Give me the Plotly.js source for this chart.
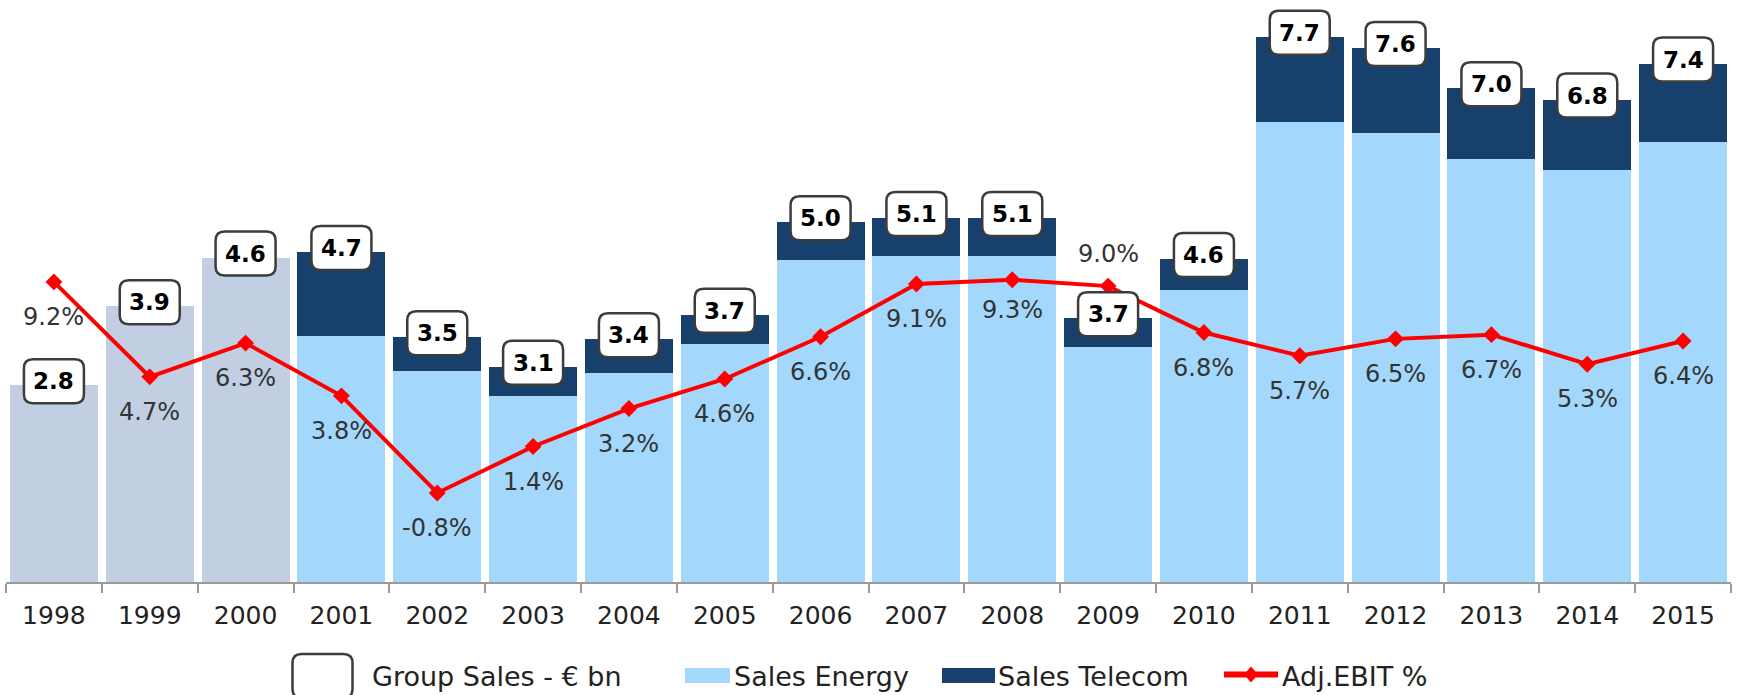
<!DOCTYPE html>
<html>
<head>
<meta charset="utf-8">
<script src="https://cdn.plot.ly/plotly-3.0.1.min.js"></script>
<style>
  html, body { margin: 0; padding: 0; background: #ffffff; }
  #chart { width: 1741px; height: 695px; }
</style>
</head>
<body>
<div id="chart"></div>
<script>
// ---------------- DATA ----------------
const years = ['1998','1999','2000','2001','2002','2003','2004','2005','2006','2007','2008','2009','2010','2011','2012','2013','2014','2015'];
// Group sales before segment split (€ bn)
const groupSalesEarly = [2.79, 3.91, 4.60, null, null, null, null, null, null, null, null, null, null, null, null, null, null, null];
// Segment sales (€ bn)
const salesEnergy  = [null, null, null, 3.49, 2.99, 2.63, 2.97, 3.37, 4.56, 4.62, 4.62, 3.33, 4.14, 6.52, 6.37, 6.00, 5.84, 6.24];
const salesTelecom = [null, null, null, 1.19, 0.48, 0.42, 0.47, 0.42, 0.54, 0.54, 0.54, 0.41, 0.44, 1.21, 1.20, 1.00, 1.00, 1.11];
// Group sales labels (€ bn)
const groupSalesLabel = [2.8, 3.9, 4.6, 4.7, 3.5, 3.1, 3.4, 3.7, 5.0, 5.1, 5.1, 3.7, 4.6, 7.7, 7.6, 7.0, 6.8, 7.4];
// Adjusted EBIT margin (%)
const adjEbit = [9.2, 4.7, 6.3, 3.8, -0.8, 1.4, 3.2, 4.6, 6.6, 9.1, 9.3, 9.0, 6.8, 5.7, 6.5, 6.7, 5.3, 6.4];
// Legend labels
const legendLabels = ['Group Sales - \u20AC bn', 'Sales Energy', 'Sales Telecom', 'Adj.EBIT %'];

// ---------------- STYLE ----------------
const FONT = 'DejaVu Sans, Verdana, sans-serif';
const C_GROUP = '#c2cfe3';
const C_ENERGY = '#a3d8fc';
const C_TELECOM = '#17406d';
const C_EBIT = '#ff0000';
const C_BOXLINE = '#3c3c3c';
// vertical pixel offset of each percentage label from its point
const ebitLabelShift = years.map(y => (y === '2009' ? 32 : (y === '2008' ? -30 : -35)));

const W = 1741, H = 695;
const M = { l: 6, r: 10, t: 5, b: 113 };
const plotW = W - M.l - M.r, plotH = H - M.t - M.b;
const px2paperX = p => (p - M.l) / plotW;
const px2paperY = p => (H - M.b - p) / plotH;

function roundRect(w, h, r, cy) {
  const x0 = -w / 2, x1 = w / 2, y0 = cy - h / 2, y1 = cy + h / 2;
  return `M${x0 + r},${y0} L${x1 - r},${y0} Q${x1},${y0} ${x1},${y0 + r} L${x1},${y1 - r} Q${x1},${y1} ${x1 - r},${y1} L${x0 + r},${y1} Q${x0},${y1} ${x0},${y1 - r} L${x0},${y0 + r} Q${x0},${y0} ${x0 + r},${y0} Z`;
}

// ---------------- TRACES ----------------
const traces = [
  { type: 'bar', x: years, y: groupSalesEarly, name: 'Group Sales', marker: { color: C_GROUP }, showlegend: false },
  { type: 'bar', x: years, y: salesEnergy, name: legendLabels[1], marker: { color: C_ENERGY }, showlegend: false },
  { type: 'bar', x: years, y: salesTelecom, name: legendLabels[2], marker: { color: C_TELECOM }, showlegend: false },
  { type: 'scatter', mode: 'lines+markers', x: years, y: adjEbit, yaxis: 'y2', name: legendLabels[3],
    line: { color: C_EBIT, width: 4 }, marker: { symbol: 'diamond', size: 13, color: C_EBIT }, showlegend: false, cliponaxis: false }
];

// ---------------- LABEL BOXES & ANNOTATIONS ----------------
// category positions are referenced by index on the category axis
const totals = years.map((y, i) => (groupSalesEarly[i] || 0) + (salesEnergy[i] || 0) + (salesTelecom[i] || 0));
const BOX_SHIFT = 4;
const shapes = [];
const annotations = [];
years.forEach((yr, i) => {
  shapes.push({
    type: 'path', xref: 'x', yref: 'y', xsizemode: 'pixel', ysizemode: 'pixel',
    xanchor: i, yanchor: totals[i],
    path: roundRect(60, 44, 9, BOX_SHIFT),
    fillcolor: '#ffffff', line: { color: C_BOXLINE, width: 2.5 }, layer: 'above'
  });
  annotations.push({
    x: i, y: totals[i], xref: 'x', yref: 'y', yshift: BOX_SHIFT, showarrow: false,
    text: groupSalesLabel[i].toFixed(1), font: { family: FONT, size: 23, color: '#000000', weight: 'bold' },
    xanchor: 'center', yanchor: 'middle'
  });
  annotations.push({
    x: i, y: adjEbit[i], xref: 'x', yref: 'y2', yshift: ebitLabelShift[i], showarrow: false,
    text: adjEbit[i].toFixed(1) + '%', font: { family: FONT, size: 24, color: '#333333' },
    xanchor: 'center', yanchor: 'middle'
  });
});

// ---------------- CUSTOM LEGEND ----------------
const LEG_Y = 676;
shapes.push({
  type: 'path', xref: 'paper', yref: 'paper', xsizemode: 'pixel', ysizemode: 'pixel',
  xanchor: px2paperX(322.5), yanchor: px2paperY(LEG_Y),
  path: roundRect(60, 44, 9, 0), fillcolor: '#ffffff', line: { color: C_BOXLINE, width: 2.5 }
});
shapes.push({ type: 'rect', xref: 'paper', yref: 'paper', x0: px2paperX(685), x1: px2paperX(730),
  y0: px2paperY(683), y1: px2paperY(668), fillcolor: C_ENERGY, line: { width: 0 } });
shapes.push({ type: 'rect', xref: 'paper', yref: 'paper', x0: px2paperX(942), x1: px2paperX(995),
  y0: px2paperY(683), y1: px2paperY(668), fillcolor: C_TELECOM, line: { width: 0 } });
shapes.push({ type: 'line', xref: 'paper', yref: 'paper', x0: px2paperX(1224), x1: px2paperX(1278),
  y0: px2paperY(674.5), y1: px2paperY(674.5), line: { color: C_EBIT, width: 6 } });
shapes.push({ type: 'path', xref: 'paper', yref: 'paper', xsizemode: 'pixel', ysizemode: 'pixel',
  xanchor: px2paperX(1251), yanchor: px2paperY(674.5),
  path: 'M-7,0 L0,8 L7,0 L0,-8 Z', fillcolor: C_EBIT, line: { width: 0 } });

const legendTextX = [370, 732, 996, 1280];
legendLabels.forEach((t, i) => {
  annotations.push({
    x: px2paperX(legendTextX[i]), y: px2paperY(LEG_Y), xref: 'paper', yref: 'paper',
    text: t, showarrow: false, xanchor: 'left', yanchor: 'middle',
    font: { family: FONT, size: 27, color: '#222222' }
  });
});

// ---------------- LAYOUT ----------------
const layout = {
  width: W, height: H,
  margin: M,
  paper_bgcolor: '#ffffff', plot_bgcolor: '#ffffff',
  barmode: 'stack', bargap: 0.082,
  showlegend: false,
  font: { family: FONT, color: '#222222' },
  xaxis: {
    type: 'category', categoryorder: 'array', categoryarray: years,
    range: [-0.5, years.length - 0.5], autorange: false,
    showline: true, linecolor: '#9a9a9a', linewidth: 2,
    ticks: 'outside', tickson: 'boundaries', ticklen: 9, tickwidth: 2, tickcolor: '#9a9a9a',
    tickangle: 0, ticklabelstandoff: 10,
    tickfont: { family: FONT, size: 25, color: '#222222' },
    showgrid: false, zeroline: false, fixedrange: true
  },
  yaxis: { range: [0, 8.18], autorange: false, visible: false, showgrid: false, zeroline: false, fixedrange: true },
  yaxis2: { range: [-5.02, 22.32], autorange: false, overlaying: 'y', visible: false, showgrid: false, zeroline: false, fixedrange: true },
  shapes: shapes,
  annotations: annotations
};

Plotly.newPlot('chart', traces, layout, { displayModeBar: false, staticPlot: true });
</script>
</body>
</html>
